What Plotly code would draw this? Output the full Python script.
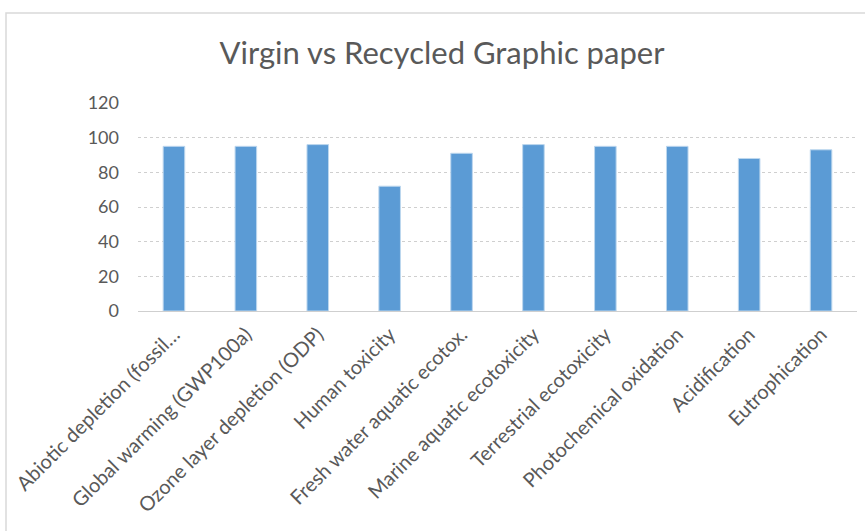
import plotly.graph_objects as go

categories = [
    "Abiotic depletion (fossil…",
    "Global warming (GWP100a)",
    "Ozone layer depletion (ODP)",
    "Human toxicity",
    "Fresh water aquatic ecotox.",
    "Marine aquatic ecotoxicity",
    "Terrestrial ecotoxicity",
    "Photochemical oxidation",
    "Acidification",
    "Eutrophication",
]
values = [95, 95, 96, 72, 91, 96, 95, 95, 88, 93]
y_ticks = [0, 20, 40, 60, 80, 100, 120]

W, H = 865, 531
L, R, T, B = 138, 8, 103, 220
plot_w = W - L - R
plot_h = H - T - B

fig = go.Figure(
    go.Bar(
        x=categories,
        y=values,
        marker=dict(color="#5B9BD5", line=dict(color="#BDD7EE", width=1)),
    )
)

# outer chart frame
fig.add_shape(
    type="rect",
    xref="paper", yref="paper",
    x0=(6 - L) / plot_w, x1=(W + 10 - L) / plot_w,
    y0=-(H + 10 - (H - B)) / plot_h, y1=((H - B) - 13) / plot_h,
    line=dict(color="#D9D9D9", width=1.5),
    fillcolor="rgba(0,0,0,0)",
    layer="below",
)

fig.update_layout(
    width=W, height=H,
    margin=dict(l=L, r=R, t=T, b=B),
    paper_bgcolor="white",
    plot_bgcolor="white",
    bargap=0.7,
    showlegend=False,
    font=dict(family="Lato, Carlito, sans-serif", color="#595959"),
    title=dict(
        text="Virgin vs Recycled Graphic paper",
        x=442 / W, xanchor="center",
        y=1 - 53 / H, yanchor="middle",
        font=dict(size=31, color="#595959", family="Lato, sans-serif"),
    ),
)
fig.update_xaxes(
    tickangle=-45,
    tickfont=dict(size=20, color="#595959"),
    showgrid=False,
    showline=False,
    ticks="",
    ticklabelstandoff=7,
)
fig.update_yaxes(
    range=[0, 120],
    tickvals=y_ticks,
    tickfont=dict(size=18, color="#595959"),
    showgrid=True,
    gridcolor="#CFCFCF",
    gridwidth=1,
    griddash="dot",
    zeroline=True,
    zerolinecolor="#CFCFCF",
    zerolinewidth=1,
    ticks="",
    ticklabelstandoff=18,
)

fig.write_html("out.html")
